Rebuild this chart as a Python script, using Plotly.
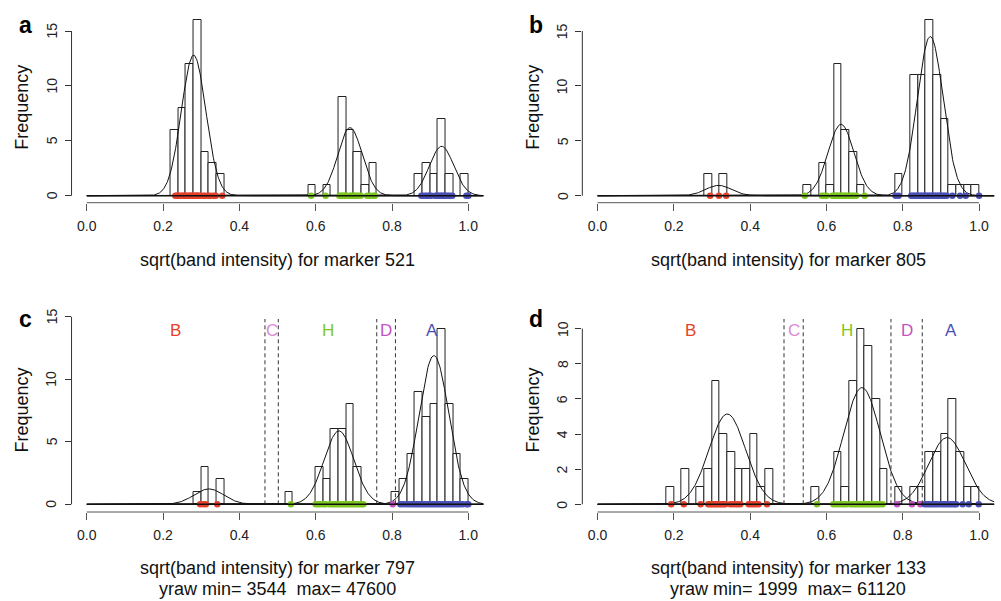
import numpy as np
import plotly.graph_objects as go

W, H = 1001, 601

# ---------------- data ----------------
BIN = 0.02
a_bin_left = [0.22, 0.24, 0.26, 0.28, 0.30, 0.32, 0.34, 0.58, 0.62, 0.66, 0.68, 0.70, 0.72, 0.74,
              0.86, 0.88, 0.90, 0.92, 0.94, 0.98]
a_counts = [6, 8, 12, 16, 4, 3, 2, 1, 1, 9, 6, 4, 1, 3, 2, 3, 2, 7, 2, 2]

b_bin_left = [0.28, 0.32, 0.54, 0.58, 0.60, 0.62, 0.64, 0.66, 0.68, 0.78, 0.82, 0.84, 0.86, 0.88,
              0.90, 0.92, 0.94, 0.96, 0.98]
b_counts = [2, 2, 1, 3, 1, 12, 6, 4, 1, 2, 11, 11, 16, 11, 7, 1, 1, 1, 1]

c_bin_left = [0.28, 0.30, 0.34, 0.52, 0.60, 0.62, 0.64, 0.66, 0.68, 0.70, 0.80, 0.82, 0.84, 0.86,
              0.88, 0.90, 0.92, 0.94, 0.96, 0.98]
c_counts = [1, 3, 2, 1, 3, 2, 6, 6, 8, 3, 1, 2, 4, 9, 7, 8, 14, 8, 4, 2]

d_bin_left = [0.18, 0.22, 0.26, 0.28, 0.30, 0.32, 0.34, 0.36, 0.38, 0.40, 0.42, 0.44, 0.56, 0.62,
              0.64, 0.66, 0.68, 0.70, 0.72, 0.74, 0.78, 0.82, 0.84, 0.86, 0.88, 0.90, 0.92, 0.94,
              0.96, 0.98]
d_counts = [1, 2, 1, 2, 7, 4, 3, 2, 2, 4, 1, 2, 1, 3, 1, 7, 10, 9, 6, 2, 1, 1, 1, 3, 3, 4, 6, 3, 1, 1]

# fitted mixture components: means, peak heights, sd
a_means = [0.28, 0.69, 0.93]
a_peaks = [12.8, 6.2, 4.5]
a_sd = 0.032
b_means = [0.317, 0.638, 0.872]
b_peaks = [0.94, 6.5, 14.5]
b_sd = 0.034
c_means = [0.32, 0.661, 0.91]
c_peaks = [1.23, 5.87, 11.9]
c_sd = 0.039
d_means = [0.34, 0.693, 0.916]
d_peaks = [5.14, 6.64, 3.8]
d_sd = 0.048

# individual observations (genotype calls) shown as dots on the baseline
a_B = [0.232, 0.236, 0.24, 0.245, 0.25, 0.253, 0.257, 0.26, 0.265, 0.268, 0.272, 0.275, 0.278,
       0.282, 0.285, 0.288, 0.29, 0.293, 0.297, 0.305, 0.31, 0.318, 0.325, 0.333, 0.338, 0.355]
a_H = [0.588, 0.626, 0.662, 0.666, 0.67, 0.674, 0.678, 0.682, 0.69, 0.694, 0.698, 0.702, 0.706,
       0.712, 0.718, 0.735, 0.742, 0.75, 0.755]
a_A = [0.877, 0.882, 0.888, 0.893, 0.898, 0.903, 0.913, 0.918, 0.922, 0.926, 0.93, 0.934, 0.938,
       0.942, 0.947, 0.952, 0.958, 0.995, 1.0]

b_B = [0.295, 0.318, 0.337]
b_H = [0.543, 0.588, 0.594, 0.6, 0.615, 0.62, 0.625, 0.628, 0.632, 0.636, 0.64, 0.644, 0.648,
       0.652, 0.657, 0.662, 0.667, 0.672, 0.678, 0.7]
b_A = [0.781, 0.789, 0.822, 0.826, 0.83, 0.834, 0.838, 0.842, 0.846, 0.85, 0.854, 0.858, 0.862,
       0.866, 0.87, 0.874, 0.878, 0.882, 0.886, 0.89, 0.894, 0.898, 0.902, 0.906, 0.91, 0.915,
       0.93, 0.95, 0.965, 1.0]

c_B = [0.297, 0.305, 0.312, 0.342]
c_H = [0.535, 0.6, 0.606, 0.612, 0.62, 0.626, 0.636, 0.642, 0.648, 0.654, 0.66, 0.666, 0.672,
       0.678, 0.684, 0.69, 0.696, 0.702, 0.708, 0.714, 0.72, 0.725]
c_D = [0.802]
c_A = [0.822, 0.83, 0.838, 0.845, 0.852, 0.858, 0.864, 0.87, 0.876, 0.882, 0.888, 0.894, 0.9,
       0.906, 0.912, 0.918, 0.924, 0.93, 0.936, 0.942, 0.948, 0.954, 0.96, 0.966, 0.972, 0.978,
       0.985, 0.995, 1.0]

d_B = [0.193, 0.226, 0.27, 0.29, 0.295, 0.3, 0.305, 0.31, 0.315, 0.32, 0.325, 0.33, 0.335,
       0.348, 0.355, 0.362, 0.368, 0.374, 0.396, 0.402, 0.408, 0.415, 0.422, 0.444]
d_H = [0.575, 0.618, 0.625, 0.632, 0.64, 0.646, 0.652, 0.662, 0.668, 0.674, 0.68, 0.686, 0.692,
       0.698, 0.704, 0.71, 0.716, 0.722, 0.728, 0.734, 0.74, 0.747]
d_D = [0.785, 0.824, 0.846]
d_A = [0.857, 0.863, 0.869, 0.875, 0.881, 0.887, 0.893, 0.9, 0.906, 0.912, 0.918, 0.924, 0.93,
       0.936, 0.94, 0.957, 0.973, 0.999]

c_bounds = [0.467, 0.502, 0.760, 0.809]
d_bounds = [0.4886, 0.539, 0.769, 0.851]
class_labels = ["B", "C", "H", "D", "A"]

x_ticks = [0.0, 0.2, 0.4, 0.6, 0.8, 1.0]
x_tick_text = ["0.0", "0.2", "0.4", "0.6", "0.8", "1.0"]
ab_yticks = [0, 5, 10, 15]
c_yticks = [0, 5, 10, 15]
d_yticks = [0, 2, 4, 6, 8, 10]

titles = ["sqrt(band intensity) for marker 521", "sqrt(band intensity) for marker 805",
          "sqrt(band intensity) for marker 797", "sqrt(band intensity) for marker 133"]
subtitles = ["", "", "yraw min= 3544  max= 47600", "yraw min= 1999  max= 61120"]
letters = ["a", "b", "c", "d"]

# ---------------- styling ----------------
COL = {"B": "#E5412B", "C": "#D98AD8", "H": "#7DC61F", "D": "#C452C2", "A": "#4A50B6"}
FONT = "Liberation Sans, Arial, Helvetica, sans-serif"

# pixel geometry of each panel: x of value 0, x of value 1, y of 0, px per unit, region top, bottom
geom = [
    dict(x0=86.8, x1=468.3, y0=195.7, uy=10.98, top=13, bot=202.7),
    dict(x0=597.6, x1=979.1, y0=195.7, uy=10.98, top=13, bot=202.7),
    dict(x0=86.8, x1=468.3, y0=504.3, uy=12.5, top=309, bot=512),
    dict(x0=597.6, x1=979.1, y0=504.3, uy=17.57, top=309, bot=512),
]

panels = [
    dict(bins=a_bin_left, counts=a_counts, means=a_means, peaks=a_peaks, sd=a_sd,
         dots=[("B", a_B), ("H", a_H), ("A", a_A)], yticks=ab_yticks, ytop=15, bounds=None),
    dict(bins=b_bin_left, counts=b_counts, means=b_means, peaks=b_peaks, sd=b_sd,
         dots=[("B", b_B), ("H", b_H), ("A", b_A)], yticks=ab_yticks, ytop=15, bounds=None),
    dict(bins=c_bin_left, counts=c_counts, means=c_means, peaks=c_peaks, sd=c_sd,
         dots=[("B", c_B), ("H", c_H), ("D", c_D), ("A", c_A)], yticks=c_yticks, ytop=15,
         bounds=c_bounds),
    dict(bins=d_bin_left, counts=d_counts, means=d_means, peaks=d_peaks, sd=d_sd,
         dots=[("B", d_B), ("H", d_H), ("D", d_D), ("A", d_A)], yticks=d_yticks, ytop=10,
         bounds=d_bounds),
]

fig = go.Figure()
shapes = []
annotations = []
layout_axes = {}

for i, (p, g) in enumerate(zip(panels, geom)):
    n = i + 1
    xa = "x" if n == 1 else f"x{n}"
    ya = "y" if n == 1 else f"y{n}"
    ux = g["x1"] - g["x0"]
    xl, xr = -0.04, 1.04
    px_l = g["x0"] + xl * ux
    px_r = g["x0"] + xr * ux
    yr_lo = -(g["bot"] - g["y0"]) / g["uy"]
    yr_hi = (g["y0"] - g["top"]) / g["uy"]

    layout_axes["xaxis" if n == 1 else f"xaxis{n}"] = dict(
        domain=[px_l / W, px_r / W], range=[xl, xr], anchor=ya,
        showgrid=False, zeroline=False, showline=False,
        ticks="outside", ticklen=7, tickwidth=1, tickcolor="#555",
        tickvals=x_ticks, ticktext=x_tick_text, ticklabelstandoff=3,
        tickfont=dict(family=FONT, size=14, color="#222"),
    )
    layout_axes["yaxis" if n == 1 else f"yaxis{n}"] = dict(
        domain=[1 - g["bot"] / H, 1 - g["top"] / H], range=[yr_lo, yr_hi], anchor=xa,
        showgrid=False, zeroline=False, showline=False,
        ticks="outside", ticklen=6, tickwidth=1, tickcolor="#333",
        tickvals=p["yticks"], showticklabels=False,
    )

    # y tick labels (rotated, R style)
    for tv in p["yticks"]:
        annotations.append(dict(x=(px_l - 20) / W, y=tv, xref="paper", yref=ya, text=str(tv),
                                textangle=-90, showarrow=False, xanchor="center",
                                yanchor="middle", font=dict(family=FONT, size=14, color="#222")))

    # histogram bars
    centers = [b + BIN / 2 for b in p["bins"]]
    fig.add_trace(go.Bar(
        x=centers, y=p["counts"], width=BIN, xaxis=xa, yaxis=ya,
        marker=dict(color="white", line=dict(color="#222", width=1)),
        showlegend=False, hoverinfo="skip",
    ))

    # dashed class boundaries
    if p["bounds"]:
        ltop = (g["y0"] - 319) / g["uy"]
        for bx in p["bounds"]:
            shapes.append(dict(type="line", xref=xa, yref=ya, x0=bx, x1=bx, y0=0, y1=ltop,
                               line=dict(color="#333", width=1, dash="4px,3px")))
        edges = [0.0] + p["bounds"] + [1.0]
        lab_y = (g["y0"] - 330) / g["uy"]
        for k, lab in enumerate(class_labels):
            annotations.append(dict(
                x=(edges[k] + edges[k + 1]) / 2, y=lab_y, xref=xa, yref=ya, text=lab,
                showarrow=False, font=dict(family=FONT, size=17, color=COL[lab]),
                xanchor="center", yanchor="middle"))

    # baseline
    shapes.append(dict(type="line", xref=xa, yref=ya, x0=0, x1=1.04, y0=0, y1=0,
                       line=dict(color="#111", width=1.6)))

    # fitted component curves
    xs = np.linspace(0, 1.04, 600)
    for m, pk in zip(p["means"], p["peaks"]):
        ys = pk * np.exp(-0.5 * ((xs - m) / p["sd"]) ** 2)
        fig.add_trace(go.Scatter(x=xs, y=ys, mode="lines", xaxis=xa, yaxis=ya,
                                 line=dict(color="#111", width=1), showlegend=False,
                                 hoverinfo="skip"))

    # observation dots
    for cls, vals in p["dots"]:
        fig.add_trace(go.Scatter(x=vals, y=[0] * len(vals), mode="markers", xaxis=xa, yaxis=ya,
                                 marker=dict(color=COL[cls], size=6.5, line=dict(width=0)),
                                 showlegend=False, hoverinfo="skip", cliponaxis=False))

    # axis lines (R style: only over the tick range)
    shapes.append(dict(type="line", xref=f"{xa} domain", yref=ya, x0=0, x1=0, y0=0,
                       y1=p["ytop"], line=dict(color="#333", width=1)))
    shapes.append(dict(type="line", xref=xa, yref=f"{ya} domain", x0=0, x1=1, y0=0, y1=0,
                       line=dict(color="#555", width=1)))

    # titles
    cx = (g["x0"] + g["x1"]) / 2 / W
    if n <= 2:
        annotations.append(dict(x=cx, y=1 - 260 / H, xref="paper", yref="paper",
                                text=titles[i], showarrow=False, xanchor="center",
                                yanchor="middle", font=dict(family=FONT, size=18, color="#111")))
    else:
        annotations.append(dict(x=cx, y=1 - 568 / H, xref="paper", yref="paper",
                                text=titles[i], showarrow=False, xanchor="center",
                                yanchor="middle", font=dict(family=FONT, size=18, color="#111")))
        annotations.append(dict(x=cx, y=1 - 589 / H, xref="paper", yref="paper",
                                text=subtitles[i], showarrow=False, xanchor="center",
                                yanchor="middle", font=dict(family=FONT, size=18, color="#111")))
    ylab_x = (22 if n in (1, 3) else 533) / W
    ylab_y = 1 - ((g["top"] + g["bot"]) / 2) / H
    annotations.append(dict(x=ylab_x, y=ylab_y, xref="paper", yref="paper", text="Frequency",
                            textangle=-90, showarrow=False, xanchor="center", yanchor="middle",
                            font=dict(family=FONT, size=18, color="#111")))
    let_x = (25 if n in (1, 3) else 536) / W
    let_y = 1 - ((25 if n <= 2 else 319)) / H
    annotations.append(dict(x=let_x, y=let_y, xref="paper", yref="paper",
                            text=f"<b>{letters[i]}</b>", showarrow=False, xanchor="center",
                            yanchor="middle", font=dict(family=FONT, size=23, color="#000")))

fig.update_layout(
    width=W, height=H, margin=dict(l=0, r=0, t=0, b=0),
    paper_bgcolor="white", plot_bgcolor="white",
    shapes=shapes, annotations=annotations, barmode="overlay", bargap=0,
    **layout_axes,
)

fig.write_html("out.html", config={"displayModeBar": False},
               post_script="document.body.style.margin='0';document.body.style.padding='0';")
